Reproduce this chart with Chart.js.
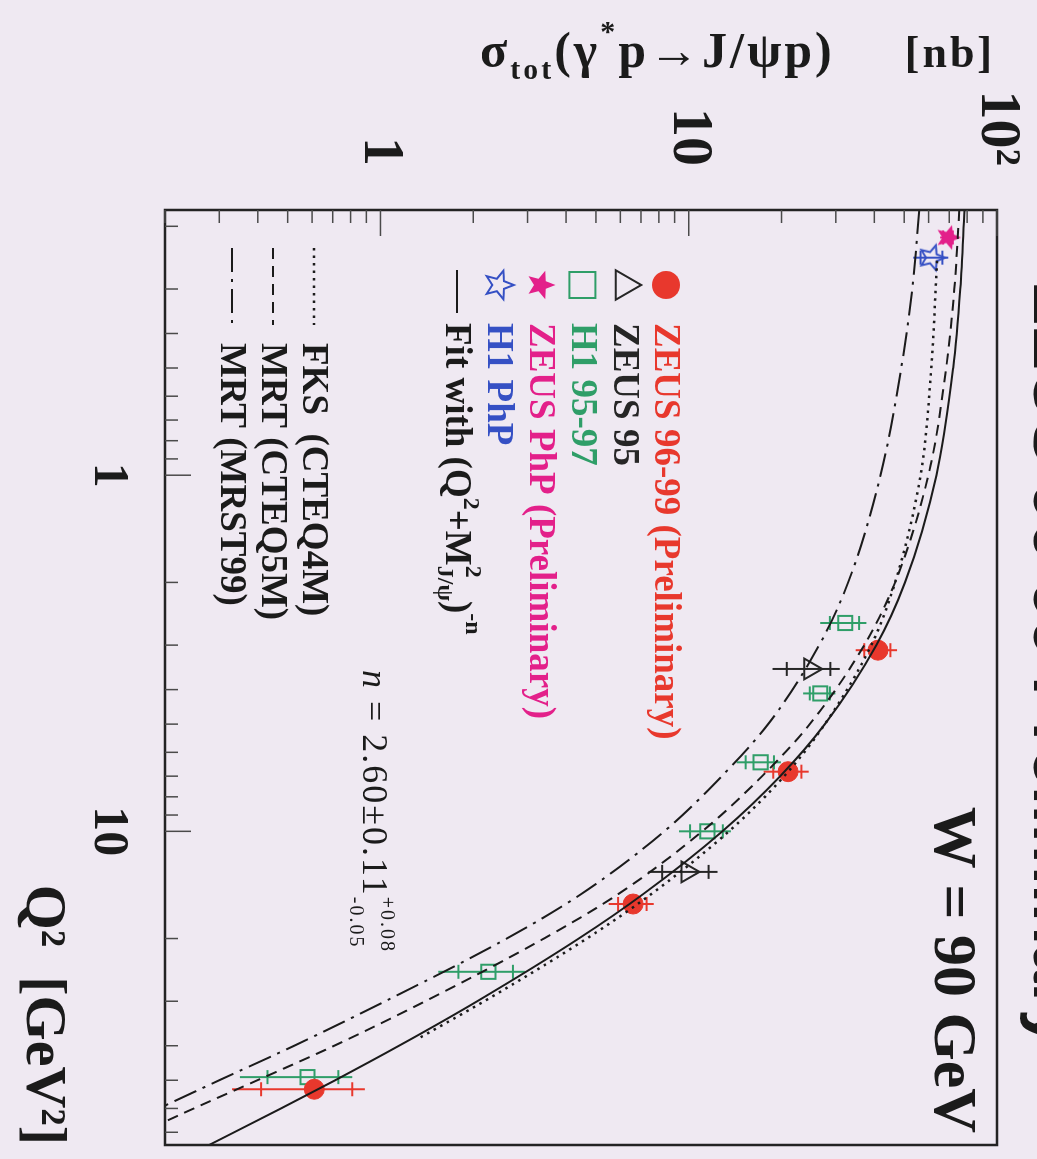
<!DOCTYPE html>
<html><head><meta charset="utf-8">
<script src="https://cdn.jsdelivr.net/npm/chart.js@4.4.1/dist/chart.umd.min.js"></script>
<style>
html,body{margin:0;padding:0;background:#efe9f2;overflow:hidden;width:1037px;height:1159px;}
#wrap{position:absolute;left:0;top:0;width:1159px;height:1037px;transform-origin:0 0;transform:translateX(1037px) rotate(90deg);}
canvas{display:block;}
</style></head>
<body><div id="wrap"><canvas id="c" width="1159" height="1037"></canvas></div>
<script>
// ---------------- data ----------------
const q2Zeus9699 = [3.1, 6.8, 16, 53];
const sigZeus9699 = [41.1, 21.0, 6.6, 0.61];
const totZeus9699 = [6.3, 3.5, 1.1, 0.28];
const statZeus9699 = [4.0, 2.2, 0.7, 0.2];

const q2Zeus95 = [3.5, 13];
const sigZeus95 = [24.8, 9.9];
const totZeus95 = [6.1, 2.5];
const statZeus95 = [4.0, 1.7];

const q2H1 = [2.6, 4.1, 6.4, 10, 24.8, 49];
const sigH1 = [32.2, 26.7, 17.1, 11.5, 2.24, 0.58];
const totH1 = [5.5, 3.2, 2.8, 2.2, 0.7, 0.23];
const statH1 = [3.5, 2.0, 1.8, 1.4, 0.45, 0.15];

const q2ZeusPhP = [0.215];
const sigZeusPhP = [69.4];
const totZeusPhP = [4.0];
const statZeusPhP = [2.5];

const q2H1PhP = [0.245];
const sigH1PhP = [61.5];
const totH1PhP = [8.0];
const statH1PhP = [5.0];

const q2Curve = [0.18, 0.3, 0.5, 1, 2, 3, 5, 7, 10, 15, 20, 30, 40, 50, 60, 76];
const sigFit = [78.4, 76.0, 72.1, 63.6, 50.3, 40.6, 27.65, 19.8, 12.85, 7.12, 4.40, 2.06, 1.149, 0.713, 0.476, 0.278];
const sigCTEQ5M = [75.5, 72.7, 68.4, 59.9, 46.7, 37.1, 24.7, 17.3, 11.06, 5.91, 3.39, 1.397, 0.708, 0.399, 0.248, 0.137];
const sigMRST99 = [56.0, 53.1, 48.9, 41.9, 32.9, 26.5, 18.1, 12.8, 8.33, 4.48, 2.57, 1.036, 0.525, 0.300, 0.191, 0.105];
const q2FKS = [0.25, 0.5, 1, 2, 3, 5, 7, 10, 15, 20, 30, 38];
const sigFKS = [63.9, 61.2, 56.5, 46.7, 39.1, 27.65, 20.4, 13.5, 7.56, 4.67, 2.17, 1.34];

const q2TickValues = [0.2,0.3,0.4,0.5,0.6,0.7,0.8,0.9,1,2,3,4,5,6,7,8,9,10,20,30,40,50,60,70];
const q2LabelValues = [1, 10];
const q2LabelTexts = ['1', '10'];
const sigTickValues = [0.2,0.3,0.4,0.5,0.6,0.7,0.8,0.9,1,2,3,4,5,6,7,8,9,10,20,30,40,50,60,70,80,90,100];
const sigLabelValues = [1, 10, 100];
const sigLabelTexts = ['1', '10', '10\u00B2'];

const dataLabels = ['ZEUS 96-99 (Preliminary)', 'ZEUS 95', 'H1 95-97', 'ZEUS PhP (Preliminary)', 'H1 PhP'];
const curveLabels = ['FKS  (CTEQ4M)', 'MRT (CTEQ5M)', 'MRT (MRST99)'];
const titleText = 'ZEUS 96-99 Preliminary';
const energyText = 'W = 90 GeV';

// ---------------- styles ----------------
const BG = '#efe9f2';
const INK = '#1b1b1b';
const SERIF = "'Liberation Serif', 'Times New Roman', serif";
const SANS = "'Liberation Sans', Arial, sans-serif";
const colZeus = '#e8382d', colZeus95 = '#262626', colH1 = '#2f9e68', colPhP = '#e3208a', colH1PhP = '#3550c4';

function starPath(g, cx, cy, R, r) {
  g.beginPath();
  for (let i = 0; i < 10; i++) {
    const a = -Math.PI / 2 + i * Math.PI / 5;
    const rr = (i % 2) ? r : R;
    g.lineTo(cx + rr * Math.cos(a), cy + rr * Math.sin(a));
  }
  g.closePath();
}
function starCanvas(R, fill, stroke, lw) {
  const s = Math.ceil(2 * R + 2 * lw + 4);
  const c = document.createElement('canvas'); c.width = s; c.height = s;
  const g = c.getContext('2d');
  starPath(g, s / 2, s / 2, R, R * 0.45);
  if (fill) { g.fillStyle = fill; g.fill(); }
  if (stroke) { g.strokeStyle = stroke; g.lineWidth = lw; g.lineJoin = 'miter'; g.stroke(); }
  return c;
}
const starPink = starCanvas(13, colPhP, null, 0);
const starBlue = starCanvas(13, null, colH1PhP, 2);

const pts = (xs, ys) => xs.map((x, i) => ({ x: x, y: ys[i] }));

function curveDs(label, xs, ys, dash, width) {
  return { label, data: pts(xs, ys), showLine: true, borderColor: INK, borderWidth: width || 2,
    borderDash: dash, pointRadius: 0, cubicInterpolationMode: 'monotone', fill: false };
}
function markDs(label, xs, ys, tot, stat, style, radius, fill, stroke, bw) {
  return { label, data: pts(xs, ys), showLine: false, pointStyle: style, pointRadius: radius,
    backgroundColor: fill, borderColor: stroke, borderWidth: bw, errTot: tot, errStat: stat, barColor: stroke };
}

const datasets = [
  curveDs('Fit', q2Curve, sigFit, [], 2),
  curveDs(curveLabels[1], q2Curve, sigCTEQ5M, [11, 7], 2),
  curveDs(curveLabels[2], q2Curve, sigMRST99, [24, 7, 3, 7], 2),
  curveDs(curveLabels[0], q2FKS, sigFKS, [2.5, 5], 2.5),
  markDs(dataLabels[0], q2Zeus9699, sigZeus9699, totZeus9699, statZeus9699, 'circle', 10, colZeus, colZeus, 1),
  markDs(dataLabels[1], q2Zeus95, sigZeus95, totZeus95, statZeus95, 'triangle', 12, 'rgba(0,0,0,0)', colZeus95, 2),
  markDs(dataLabels[2], q2H1, sigH1, totH1, statH1, 'rect', 10, 'rgba(0,0,0,0)', colH1, 2),
  markDs(dataLabels[3], q2ZeusPhP, sigZeusPhP, totZeusPhP, statZeusPhP, starPink, 13, colPhP, colPhP, 1),
  markDs(dataLabels[4], q2H1PhP, sigH1PhP, totH1PhP, statH1PhP, starBlue, 13, colH1PhP, colH1PhP, 1)
];

// ---------------- rich text helper ----------------
function fontOf(s) { return `${s.style || ''} ${s.weight || 'bold'} ${s.size}px ${s.family || SERIF}`; }
function measureSeg(ctx, s) {
  if (s.pair) return Math.max(...s.pair.map(p => measureSeg(ctx, p)));
  ctx.font = fontOf(s); return ctx.measureText(s.t).width;
}
function drawSeg(ctx, s, x, y) {
  if (s.pair) { s.pair.forEach(p => drawSeg(ctx, p, x, y)); return; }
  ctx.font = fontOf(s); ctx.fillText(s.t, x, y + (s.dy || 0));
}
function drawRich(ctx, segs, x, y, align) {
  const ws = segs.map(s => measureSeg(ctx, s));
  const W = ws.reduce((a, b) => a + b, 0);
  let cx = align === 'right' ? x - W : (align === 'center' ? x - W / 2 : x);
  ctx.textAlign = 'left';
  segs.forEach((s, i) => { drawSeg(ctx, s, cx, y); cx += ws[i]; });
}

// ---------------- plugins ----------------
const bgPlugin = {
  id: 'bg',
  beforeDraw(chart) {
    const c = chart.ctx; c.save(); c.fillStyle = BG; c.fillRect(0, 0, chart.width, chart.height); c.restore();
  }
};

const errPlugin = {
  id: 'errbars',
  beforeDatasetsDraw(chart) {
    const c = chart.ctx, ys = chart.scales.y, ca = chart.chartArea;
    c.save();
    c.beginPath(); c.rect(ca.left, ca.top, ca.right - ca.left, ca.bottom - ca.top); c.clip();
    chart.data.datasets.forEach((ds, i) => {
      if (!ds.errTot) return;
      const meta = chart.getDatasetMeta(i);
      c.strokeStyle = ds.barColor; c.lineWidth = 2;
      ds.data.forEach((p, j) => {
        const el = meta.data[j]; const x = el.x;
        const lo = Math.max(p.y - ds.errTot[j], 1e-3), hi = p.y + ds.errTot[j];
        c.beginPath(); c.moveTo(x, ys.getPixelForValue(lo)); c.lineTo(x, ys.getPixelForValue(hi)); c.stroke();
        [p.y - ds.errStat[j], p.y + ds.errStat[j]].forEach(v => {
          const yy = ys.getPixelForValue(v);
          c.beginPath(); c.moveTo(x - 7, yy); c.lineTo(x + 7, yy); c.stroke();
        });
      });
    });
    c.restore();
  }
};

function drawLegendMarker(c, kind, x, y) {
  c.save();
  if (kind === 0) { c.fillStyle = colZeus; c.beginPath(); c.arc(x, y, 14, 0, Math.PI * 2); c.fill(); }
  else if (kind === 1) {
    c.strokeStyle = colZeus95; c.lineWidth = 2; const r = 17;
    c.beginPath(); c.moveTo(x, y - r); c.lineTo(x + r * 0.866, y + r * 0.5); c.lineTo(x - r * 0.866, y + r * 0.5); c.closePath(); c.stroke();
  } else if (kind === 2) { c.strokeStyle = colH1; c.lineWidth = 2; c.strokeRect(x - 13, y - 13, 26, 26); }
  else if (kind === 3) { c.fillStyle = colPhP; starPath(c, x, y, 15, 6.5); c.fill(); }
  else if (kind === 4) { c.strokeStyle = colH1PhP; c.lineWidth = 2; starPath(c, x, y, 15, 6.5); c.stroke(); }
  c.restore();
}

const annoPlugin = {
  id: 'anno',
  afterDraw(chart) {
    const c = chart.ctx, ca = chart.chartArea, xs = chart.scales.x, ys = chart.scales.y;
    const L = ca.left, T = ca.top;
    c.save();
    // frame
    c.strokeStyle = '#232323'; c.lineWidth = 2.5;
    c.strokeRect(ca.left, ca.top, ca.right - ca.left, ca.bottom - ca.top);
    // inward ticks
    c.strokeStyle = '#4a4a4a'; c.lineWidth = 1.5;
    q2TickValues.forEach(v => {
      const p = xs.getPixelForValue(v); const len = q2LabelValues.includes(v) ? 26 : 13;
      c.beginPath(); c.moveTo(p, ca.bottom); c.lineTo(p, ca.bottom - len); c.stroke();
    });
    sigTickValues.forEach(v => {
      const p = ys.getPixelForValue(v); const len = sigLabelValues.includes(v) ? 26 : 13;
      c.beginPath(); c.moveTo(ca.left, p); c.lineTo(ca.left + len, p); c.stroke();
    });

    c.fillStyle = INK; c.textBaseline = 'alphabetic';
    // top title (mostly cut off)
    drawRich(c, [{ t: titleText, size: 68, family: SANS }], 665, 3, 'center');
    // W = 90 GeV
    drawRich(c, [{ t: energyText, size: 62 }], ca.right - 12, T + 62, 'right');

    // legend: data
    const cols = [colZeus, colZeus95, colH1, colPhP, colH1PhP];
    c.textBaseline = 'middle';
    for (let i = 0; i < 5; i++) {
      const yy = T + 331 + i * 41.8;
      drawLegendMarker(c, i, L + 75, yy);
      c.fillStyle = cols[i];
      drawRich(c, [{ t: dataLabels[i], size: 37 }], L + 113, yy + 1, 'left');
    }
    // legend: fit
    const yf = T + 331 + 5 * 41.8;
    c.strokeStyle = INK; c.lineWidth = 2;
    c.beginPath(); c.moveTo(L + 60, yf); c.lineTo(L + 103, yf); c.stroke();
    c.fillStyle = INK;
    drawRich(c, [
      { t: 'Fit with (Q', size: 37 }, { t: '2', size: 24, dy: -14 }, { t: '+M', size: 37 },
      { pair: [{ t: 'J/\u03C8', size: 24, dy: 12 }, { t: '2', size: 24, dy: -16 }] },
      { t: ')', size: 37 }, { t: '-n', size: 24, dy: -16 }
    ], L + 113, yf + 1, 'left');
    // legend: curves
    const dashes = [[2.5, 5], [11, 7], [24, 7, 3, 7]];
    for (let i = 0; i < 3; i++) {
      const yy = T + 683 + i * 41;
      c.save(); c.strokeStyle = INK; c.lineWidth = i === 0 ? 2.5 : 2; c.setLineDash(dashes[i]);
      c.beginPath(); c.moveTo(L + 38, yy); c.lineTo(L + 115, yy); c.stroke(); c.restore();
      c.fillStyle = INK;
      drawRich(c, [{ t: curveLabels[i], size: 37 }], L + 133, yy + 1, 'left');
    }
    // n value
    c.textBaseline = 'alphabetic';
    c.save();
    if ('letterSpacing' in c) c.letterSpacing = '2px';
    drawRich(c, [
      { t: 'n', size: 36, style: 'italic', weight: 'normal' },
      { t: ' = 2.60\u00B10.11', size: 36, weight: 'normal' },
      { pair: [{ t: '+0.08', size: 20, weight: 'normal', dy: -18 }, { t: '-0.05', size: 20, weight: 'normal', dy: 13 }] }
    ], L + 460, T + 634, 'left');
    c.restore();

    // sigma axis title (vertical)
    c.save();
    c.translate(L - 143, T + 2);
    c.rotate(-Math.PI / 2);
    if ('letterSpacing' in c) c.letterSpacing = '3px';
    drawRich(c, [
      { t: '\u03C3', size: 50 }, { t: 'tot', size: 30, dy: 12 }, { t: '(\u03B3', size: 50 },
      { t: '*', size: 30, dy: -26 }, { t: 'p\u2192J/\u03C8p)', size: 50 }, { t: '     [nb]', size: 44 }
    ], 0, 0, 'right');
    c.restore();
    c.restore();
  }
};

new Chart(document.getElementById('c'), {
  type: 'scatter',
  data: { datasets },
  options: {
    responsive: false, animation: false, devicePixelRatio: 1, events: [],
    layout: { padding: { left: 0, right: 12, top: 40, bottom: 0 } },
    plugins: { legend: { display: false }, tooltip: { enabled: false } },
    scales: {
      x: {
        type: 'logarithmic', position: 'bottom', min: 0.18, max: 76,
        grid: { display: false }, border: { display: false },
        afterBuildTicks: (s) => { s.ticks = q2TickValues.map(v => ({ value: v })); },
        afterFit: (s) => { s.height = 165; s.paddingLeft = 0; s.paddingRight = 0; s.paddingTop = 0; s.paddingBottom = 0; },
        ticks: {
          autoSkip: false, maxRotation: 0, minRotation: 0, padding: 19, color: INK,
          font: { family: SERIF, size: 50, weight: 'bold' },
          callback: (v) => { const i = q2LabelValues.indexOf(v); return i >= 0 ? q2LabelTexts[i] : ''; }
        },
        title: { display: true, text: 'Q\u00B2  [GeV\u00B2]', align: 'end', color: INK,
          font: { family: SERIF, size: 58, weight: 'bold' }, padding: { top: 0, bottom: 7 } }
      },
      y: {
        type: 'logarithmic', position: 'left', min: 0.2, max: 100,
        grid: { display: false }, border: { display: false },
        afterBuildTicks: (s) => { s.ticks = sigTickValues.map(v => ({ value: v })); },
        afterFit: (s) => { s.width = 210; s.paddingLeft = 0; s.paddingRight = 0; s.paddingTop = 0; s.paddingBottom = 0; },
        ticks: {
          autoSkip: false, padding: 36, color: INK,
          font: { family: SERIF, size: 58, weight: 'bold' },
          callback: (v) => { const i = sigLabelValues.indexOf(v); return i >= 0 ? sigLabelTexts[i] : ''; }
        }
      }
    }
  },
  plugins: [bgPlugin, errPlugin, annoPlugin]
});
</script>
</body></html>
